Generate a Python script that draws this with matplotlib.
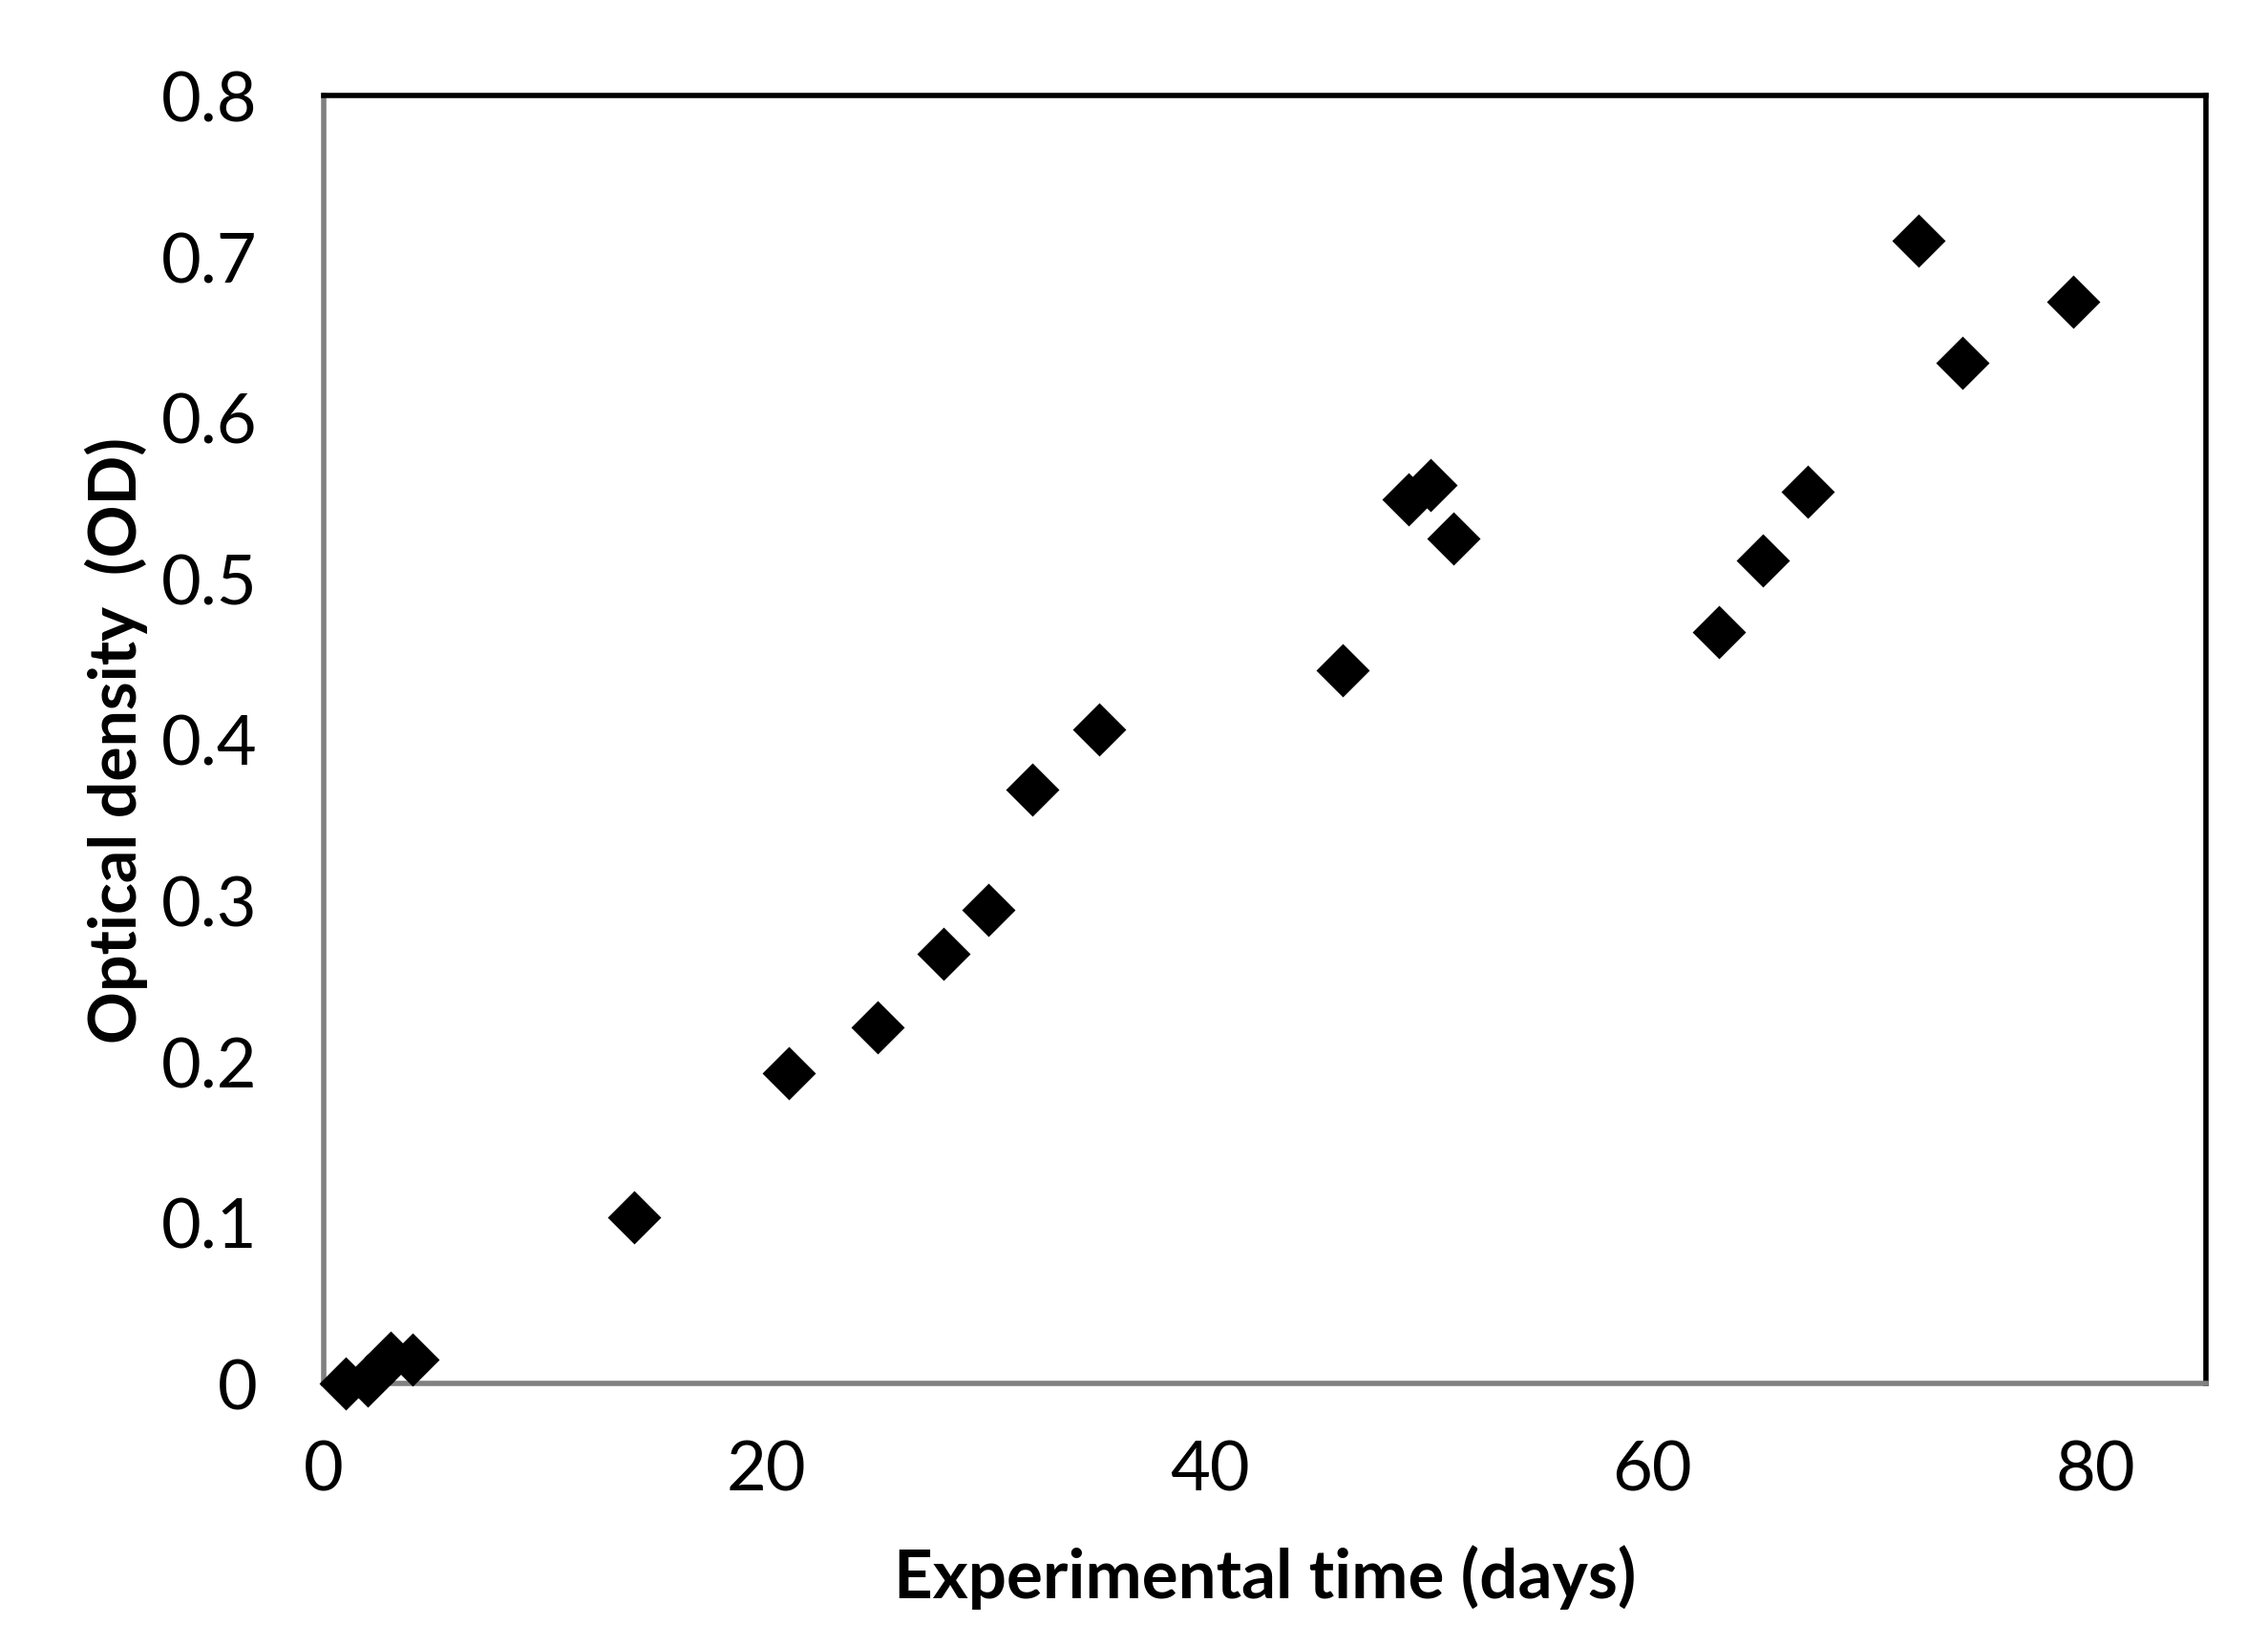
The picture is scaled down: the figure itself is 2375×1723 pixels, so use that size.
import matplotlib
matplotlib.use("Agg")
import matplotlib.pyplot as plt

# experimental time (days) and optical density readings
days = [1, 2, 3, 4, 14, 21, 25, 28, 30, 32, 35, 46, 49, 50, 51, 63, 65, 67, 72, 74, 79]
od = [0.0, 0.002, 0.016, 0.015, 0.103, 0.193, 0.221, 0.267, 0.294, 0.369, 0.406,
      0.443, 0.549, 0.558, 0.525, 0.467, 0.511, 0.554, 0.710, 0.634, 0.672]

x_ticks = [0, 20, 40, 60, 80]
y_ticks = [0, 0.1, 0.2, 0.3, 0.4, 0.5, 0.6, 0.7, 0.8]
y_tick_labels = ['0', '0.1', '0.2', '0.3', '0.4', '0.5', '0.6', '0.7', '0.8']

plt.rcParams['font.family'] = ['Lato', 'DejaVu Sans']

fig = plt.figure(figsize=(11.875, 8.62), dpi=200)
ax = fig.add_axes([339 / 2375, 1 - 1450 / 1724, (2310 - 339) / 2375, (1450 - 101) / 1724])

ax.plot(days, od, linestyle='none', marker='D', markersize=13, color='black', clip_on=False, zorder=3)

ax.set_xlim(0, 85)
ax.set_ylim(0, 0.8)
ax.set_xticks(x_ticks)
ax.set_yticks(y_ticks)
ax.set_yticklabels(y_tick_labels)
ax.tick_params(axis='both', length=0, labelsize=26)
ax.tick_params(axis='y', pad=25)
ax.tick_params(axis='x', pad=21)

ax.set_xlabel('Experimental time (days)', fontsize=25.5, fontweight='bold', labelpad=16)
ax.set_ylabel('Optical density  (OD)', fontsize=24.5, fontweight='bold', labelpad=5)

for side in ['left', 'bottom']:
    ax.spines[side].set_color('#808080')
    ax.spines[side].set_linewidth(2)
for side in ['top', 'right']:
    ax.spines[side].set_color('black')
    ax.spines[side].set_linewidth(2)

fig.savefig('out.png', dpi=200)
